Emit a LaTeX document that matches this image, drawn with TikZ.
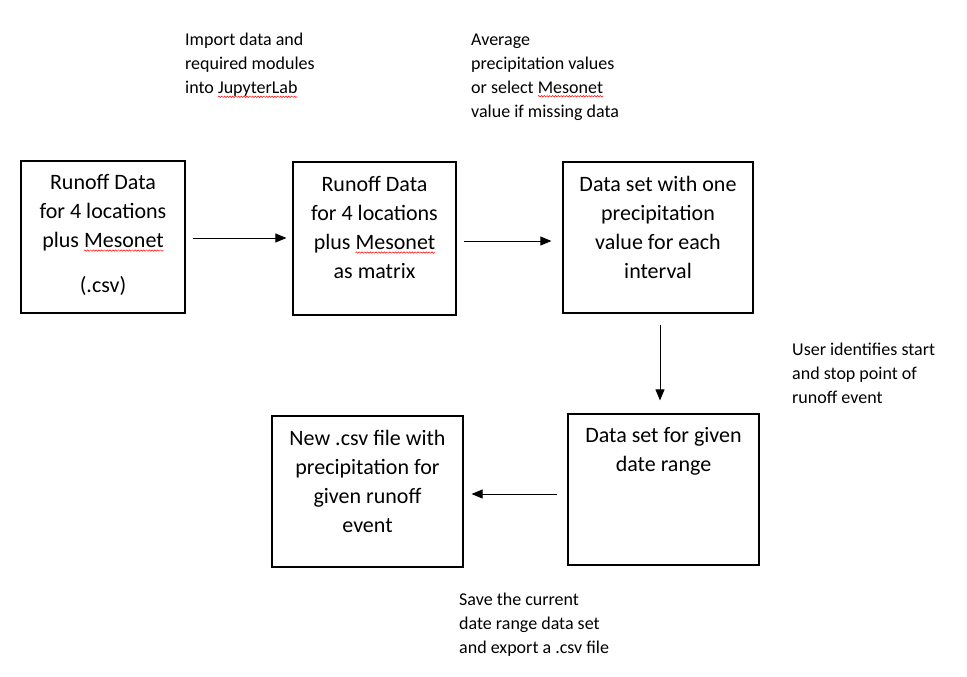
\documentclass[tikz,border=0pt]{standalone}
\usepackage{fontspec}
\setmainfont{Carlito}
\usetikzlibrary{arrows.meta,decorations.pathmorphing}
\newcommand\squig[1]{\tikz[baseline=(sq.base)]{\node[inner sep=0pt,outer sep=0pt] (sq) {#1};\draw[squigline,overlay] ([yshift=-3pt]sq.base west) -- ([yshift=-3pt]sq.base east);}}
\begin{document}
\begin{tikzpicture}[x=1pt,y=-1pt,
 box/.style={draw=black,line width=1.2pt,inner sep=0pt},
 boxtext/.style={font=\fontsize{22}{29}\selectfont,align=center,inner sep=0pt},
 note/.style={font=\fontsize{18}{24}\selectfont,align=left,inner sep=0pt,anchor=west},
 arr/.style={line width=0.9pt,-{Triangle[length=11pt,width=9pt]}},
 squigline/.style={draw=red,line width=0.5pt,decorate,decoration={snake,amplitude=0.7pt,segment length=2.8pt}}]
\useasboundingbox (0,0) rectangle (967,677);
\fill[white] (0,0) rectangle (967,677);

\node[box,minimum width=164pt,minimum height=152pt] (b1) at (103,237) {};
\node[box,minimum width=163pt,minimum height=153pt] (b2) at (374.5,238.5) {};
\node[box,minimum width=190pt,minimum height=151pt] (b3) at (658,237.5) {};
\node[box,minimum width=191pt,minimum height=151pt] (b4) at (663.5,489.5) {};
\node[box,minimum width=191pt,minimum height=151pt] (b5) at (367.5,491.5) {};

\node[boxtext] (t1) at (103,235) {Runoff Data\\for 4 locations\\plus \squig{Mesonet}\\[16pt](.csv)};
\node[boxtext] (t2) at (374.5,227.5) {Runoff Data\\for 4 locations\\plus \squig{Mesonet}\\as matrix};
\node[boxtext] (t3) at (658,227.5) {Data set with one\\precipitation\\value for each\\interval};
\node[boxtext] (t4) at (663.5,451) {Data set for given\\date range};
\node[boxtext] (t5) at (367.5,481.5) {New .csv file with\\precipitation for\\given runoff\\event};

\node[note] (n1) at (185,65) {Import data and\\required modules\\into \squig{JupyterLab}};
\node[note] (n2) at (471,77) {Average\\precipitation values\\or select \squig{Mesonet}\\value if missing data};
\node[note] (n3) at (792,373) {User identifies start\\and stop point of\\runoff event};
\node[note] (n4) at (459,625) {Save the current\\date range data set\\and export a .csv file};

\draw[arr,shorten <=7pt,shorten >=6pt] (b1.east |- 0,238) -- (b2.west |- 0,238);
\draw[arr,shorten <=7pt,shorten >=11pt] (b2.east |- 0,241) -- (b3.west |- 0,241);
\draw[arr,shorten <=11pt,shorten >=13pt] (b3.south -| 660,0) -- (b4.north -| 660,0);
\draw[arr,shorten <=10pt,shorten >=8pt] (b4.west |- 0,494) -- (b5.east |- 0,494);
\end{tikzpicture}
\end{document}
